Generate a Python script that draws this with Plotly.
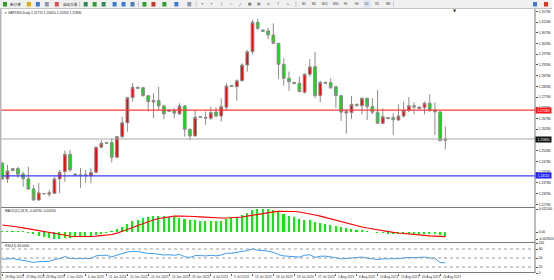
import plotly.graph_objects as go

# ---------------- data ----------------
dates = ["18 May 2023", "19 May 2023", "21 May 2023", "22 May 2023", "23 May 2023", "24 May 2023",
         "25 May 2023", "26 May 2023", "28 May 2023", "29 May 2023", "30 May 2023", "31 May 2023",
         "1 Jun 2023", "2 Jun 2023", "4 Jun 2023", "5 Jun 2023", "6 Jun 2023", "7 Jun 2023",
         "8 Jun 2023", "9 Jun 2023", "11 Jun 2023", "12 Jun 2023", "13 Jun 2023", "14 Jun 2023",
         "15 Jun 2023", "16 Jun 2023", "18 Jun 2023", "19 Jun 2023", "20 Jun 2023", "21 Jun 2023",
         "22 Jun 2023", "23 Jun 2023", "25 Jun 2023", "26 Jun 2023", "27 Jun 2023", "28 Jun 2023",
         "29 Jun 2023", "30 Jun 2023", "2 Jul 2023", "3 Jul 2023", "4 Jul 2023", "5 Jul 2023",
         "6 Jul 2023", "7 Jul 2023", "9 Jul 2023", "10 Jul 2023", "11 Jul 2023", "12 Jul 2023",
         "13 Jul 2023", "14 Jul 2023", "16 Jul 2023", "17 Jul 2023", "18 Jul 2023", "19 Jul 2023",
         "20 Jul 2023", "21 Jul 2023", "23 Jul 2023", "24 Jul 2023", "25 Jul 2023", "26 Jul 2023",
         "27 Jul 2023", "28 Jul 2023", "30 Jul 2023", "31 Jul 2023", "1 Aug 2023", "2 Aug 2023",
         "3 Aug 2023", "4 Aug 2023", "6 Aug 2023", "7 Aug 2023", "8 Aug 2023", "9 Aug 2023",
         "10 Aug 2023", "11 Aug 2023", "13 Aug 2023", "14 Aug 2023", "15 Aug 2023", "16 Aug 2023",
         "17 Aug 2023", "18 Aug 2023", "20 Aug 2023", "21 Aug 2023", "22 Aug 2023", "23 Aug 2023",
         "24 Aug 2023", "25 Aug 2023"]

opens = [1.2471, 1.2397, 1.2436, 1.2445, 1.2420, 1.2398, 1.2350, 1.2299, 1.2327, 1.2326,
         1.2330, 1.2397, 1.2431, 1.2512, 1.2420, 1.2416, 1.2412, 1.2412, 1.2428, 1.2545,
         1.2563, 1.2566, 1.2498, 1.2594, 1.2659, 1.2776, 1.2824, 1.2822, 1.2785, 1.2756,
         1.2762, 1.2737, 1.2712, 1.2718, 1.2700, 1.2737, 1.2628, 1.2597, 1.2684, 1.2684,
         1.2680, 1.2709, 1.2690, 1.2731, 1.2828, 1.2827, 1.2855, 1.2928, 1.2990, 1.3127,
         1.3091, 1.3087, 1.3068, 1.3029, 1.2931, 1.2866, 1.2847, 1.2843, 1.2801, 1.2885,
         1.2920, 1.2785, 1.2847, 1.2846, 1.2826, 1.2785, 1.2704, 1.2706, 1.2745, 1.2738,
         1.2773, 1.2734, 1.2708, 1.2656, 1.2678, 1.2683, 1.2672, 1.2690, 1.2718, 1.2738,
         1.2724, 1.2729, 1.2750, 1.2718, 1.2709, 1.2577]
highs = [1.2476, 1.2462, 1.2448, 1.2454, 1.2431, 1.2454, 1.2369, 1.2378, 1.2331, 1.2346,
         1.2408, 1.2439, 1.2529, 1.2532, 1.2422, 1.2448, 1.2439, 1.2447, 1.2547, 1.2579,
         1.2568, 1.2587, 1.2597, 1.2687, 1.2780, 1.2843, 1.2827, 1.2827, 1.2788, 1.2796,
         1.2827, 1.2742, 1.2721, 1.2726, 1.2750, 1.2742, 1.2633, 1.2718, 1.2690, 1.2711,
         1.2734, 1.2731, 1.2773, 1.2843, 1.2835, 1.2861, 1.2936, 1.2998, 1.3138, 1.3142,
         1.3093, 1.3102, 1.3122, 1.3031, 1.2959, 1.2897, 1.2849, 1.2874, 1.2889, 1.2956,
         1.2990, 1.2854, 1.2850, 1.2866, 1.2832, 1.2788, 1.2723, 1.2784, 1.2747, 1.2776,
         1.2776, 1.2773, 1.2812, 1.2726, 1.2685, 1.2703, 1.2745, 1.2757, 1.2779, 1.2754,
         1.2734, 1.2757, 1.2792, 1.2754, 1.2714, 1.2641]
lows = [1.2392, 1.2378, 1.2432, 1.2402, 1.2360, 1.2346, 1.2294, 1.2294, 1.2325, 1.2314,
        1.2326, 1.2330, 1.2384, 1.2431, 1.2412, 1.2355, 1.2378, 1.2377, 1.2423, 1.2540,
        1.2561, 1.2473, 1.2493, 1.2587, 1.2617, 1.2757, 1.2817, 1.2780, 1.2711, 1.2680,
        1.2718, 1.2675, 1.2709, 1.2680, 1.2695, 1.2594, 1.2579, 1.2594, 1.2680, 1.2649,
        1.2672, 1.2684, 1.2664, 1.2718, 1.2826, 1.2762, 1.2850, 1.2897, 1.2978, 1.3091,
        1.3083, 1.3049, 1.3025, 1.2863, 1.2832, 1.2807, 1.2839, 1.2801, 1.2794, 1.2874,
        1.2773, 1.2754, 1.2840, 1.2816, 1.2729, 1.2667, 1.2608, 1.2676, 1.2736, 1.2698,
        1.2672, 1.2698, 1.2653, 1.2652, 1.2676, 1.2602, 1.2667, 1.2683, 1.2708, 1.2698,
        1.2722, 1.2698, 1.2708, 1.2602, 1.2574, 1.2535]
closes = [1.2397, 1.2434, 1.2445, 1.2419, 1.2398, 1.2350, 1.2299, 1.2332, 1.2329, 1.2332,
          1.2397, 1.2428, 1.2512, 1.2439, 1.2414, 1.2412, 1.2416, 1.2428, 1.2545, 1.2563,
          1.2566, 1.2498, 1.2594, 1.2659, 1.2776, 1.2824, 1.2820, 1.2785, 1.2757, 1.2762,
          1.2737, 1.2700, 1.2718, 1.2703, 1.2737, 1.2628, 1.2597, 1.2684, 1.2687, 1.2680,
          1.2706, 1.2690, 1.2734, 1.2830, 1.2832, 1.2855, 1.2928, 1.2990, 1.3127, 1.3099,
          1.3085, 1.3068, 1.3029, 1.2931, 1.2866, 1.2850, 1.2841, 1.2804, 1.2885, 1.2920,
          1.2785, 1.2847, 1.2843, 1.2822, 1.2785, 1.2708, 1.2711, 1.2745, 1.2738, 1.2773,
          1.2734, 1.2708, 1.2656, 1.2687, 1.2683, 1.2673, 1.2690, 1.2718, 1.2738, 1.2732,
          1.2732, 1.2750, 1.2718, 1.2709, 1.2575, 1.2583]

macd_main = [0.00025, 0.0002, 0.00015, 0.0001, 0.00005, -0.0001, -0.001, -0.00175, -0.0025, -0.003,
             -0.0035, -0.0035, -0.003, -0.00275, -0.0025, -0.00225, -0.002, -0.00175, -0.00125, -0.00075,
             -0.00025, 0.0005, 0.0015, 0.0025, 0.004, 0.0055, 0.00625, 0.007, 0.0075, 0.008,
             0.00825, 0.008, 0.00775, 0.0075, 0.00725, 0.0065, 0.006, 0.006, 0.00575, 0.0055,
             0.0055, 0.0055, 0.00575, 0.0065, 0.007, 0.0075, 0.0085, 0.0095, 0.011, 0.0115,
             0.0115, 0.0115, 0.011, 0.01, 0.009, 0.008, 0.0075, 0.00675, 0.00625, 0.006,
             0.005, 0.0045, 0.00425, 0.00375, 0.00325, 0.0025, 0.002, 0.0015, 0.001, 0.0006,
             0.0003, 0.0, -0.0003, -0.0005, -0.0006, -0.0008, -0.0009, -0.001, -0.001, -0.001,
             -0.001, -0.001, -0.0011, -0.0012, -0.0016, -0.0019]
macd_signal = [0.0035, 0.00325, 0.0029, 0.0025, 0.0021, 0.00165, 0.00115, 0.00065, 0.00015, -0.0004,
               -0.0009, -0.0014, -0.00175, -0.002, -0.00225, -0.00235, -0.00235, -0.00225, -0.0021, -0.0019,
               -0.00165, -0.00125, -0.0006, 0.00025, 0.00125, 0.00225, 0.00325, 0.00425, 0.00525, 0.006,
               0.00675, 0.00725, 0.00765, 0.0079, 0.008, 0.008, 0.0079, 0.00775, 0.0076, 0.0074,
               0.00725, 0.0071, 0.007, 0.007, 0.0071, 0.00725, 0.0075, 0.0079, 0.0084, 0.0089,
               0.0094, 0.0098, 0.0101, 0.0103, 0.0104, 0.0104, 0.01025, 0.01, 0.0096, 0.0091,
               0.0085, 0.0079, 0.0072, 0.0065, 0.0058, 0.0051, 0.0044, 0.0037, 0.0031, 0.0025,
               0.002, 0.0015, 0.001, 0.0006, 0.0002, -0.0002, -0.0005, -0.0008, -0.0011, -0.0013,
               -0.0015, -0.0017, -0.0019, -0.002, -0.0021, -0.0023]
rsi = [46, 48, 48, 45, 43, 39, 35, 38, 38, 39, 45, 48, 55, 49, 48, 47, 48, 49, 57, 59,
       59, 54, 60, 64, 70, 72, 72, 68, 65, 65, 63, 60, 61, 59, 62, 54, 52, 58, 58, 57,
       59, 57, 60, 66, 66, 68, 72, 75, 80, 76, 75, 73, 69, 61, 57, 56, 55, 53, 59, 61,
       52, 56, 56, 54, 51, 47, 48, 51, 50, 53, 50, 48, 45, 47, 47, 46, 48, 50, 52, 51,
       51, 53, 50, 49, 35, 34.0]

level_red = 1.2718
level_blue = 1.2411
rsi_levels = [80, 50, 20]
date_ticks = dates[::4]
timeframes = ["M1", "M5", "M15", "M30", "H1", "H4", "D1", "W1", "MN"]

# ---------------- layout helpers (pixel -> paper) ----------------
W, H = 554, 280
PL, PR, PT, PB = 0, 537, 9, 273


def X(px):
    return (px - PL) / (PR - PL)


def Y(py):
    return (PB - py) / (PB - PT)


FONT = "Liberation Sans, Arial, sans-serif"

fig = go.Figure()

fig.add_trace(go.Candlestick(
    x=dates, open=opens, high=highs, low=lows, close=closes,
    increasing=dict(fillcolor="#ff0000", line=dict(color="#8c8c8c", width=1)),
    decreasing=dict(fillcolor="#00e600", line=dict(color="#8c8c8c", width=1)),
    whiskerwidth=0, hoverinfo="skip", xaxis="x", yaxis="y"))

fig.add_trace(go.Bar(x=dates, y=macd_main, marker=dict(color="#00ee00", line=dict(width=0)),
                     width=0.3, hoverinfo="skip", xaxis="x", yaxis="y2"))
fig.add_trace(go.Scatter(x=dates, y=macd_signal, mode="lines",
                         line=dict(color="#ff0000", width=1.2), hoverinfo="skip",
                         xaxis="x", yaxis="y2"))
fig.add_trace(go.Scatter(x=dates, y=rsi, mode="lines",
                         line=dict(color="#3d9cf0", width=1), hoverinfo="skip",
                         xaxis="x", yaxis="y3"))

shapes = []
# toolbar
shapes.append(dict(type="rect", xref="paper", yref="paper", x0=X(0), x1=X(W), y0=Y(8), y1=Y(0),
                   fillcolor="#f0f0f0", line=dict(width=0), layer="above"))
shapes.append(dict(type="line", xref="paper", yref="paper", x0=X(0), x1=X(W), y0=Y(8.5), y1=Y(8.5),
                   line=dict(color="#c4c4c4", width=1)))
# horizontal price levels
for lvl, col in [(level_red, "#ff3b3b"), (closes[-1], "#a8a8a8"), (level_blue, "#3d3dff")]:
    shapes.append(dict(type="line", xref="paper", yref="y", x0=0, x1=1, y0=lvl, y1=lvl,
                       line=dict(color=col, width=1.2)))
# rsi dotted levels
for lvl in rsi_levels:
    shapes.append(dict(type="line", xref="paper", yref="y3", x0=0, x1=1, y0=lvl, y1=lvl,
                       line=dict(color="#9a9a9a", width=1, dash="dot")))
# panel frame lines
for py in [207.5, 242.5, 272.5]:
    shapes.append(dict(type="line", xref="paper", yref="paper", x0=0, x1=1, y0=Y(py), y1=Y(py),
                       line=dict(color="#7a7a7a", width=1)))
shapes.append(dict(type="line", xref="paper", yref="paper", x0=1, x1=1, y0=Y(9), y1=Y(273),
                   line=dict(color="#7a7a7a", width=1)))
shapes.append(dict(type="line", xref="paper", yref="paper", x0=X(0.7), x1=X(0.7), y0=Y(9), y1=Y(280),
                   line=dict(color="#b4b4b4", width=1.5)))

# toolbar icons (decoration)
icons = [(3, "#2ca02c"), (27, "#e0a800"), (36, "#3a7bd5"), (45, "#8a98a8"), (55, "#d9534f"),
         (84, "#2e8b57"), (93, "#2ca02c"), (102, "#2e8b57"), (113, "#3a7bd5"), (122, "#3a7bd5"),
         (131, "#4a7fb5"), (143, "#2ca02c"), (152, "#c0392b"), (163, "#2ca02c"), (175, "#3a7bd5"),
         (188, "#8899aa"), (535, "#3a7bd5"), (546, "#e03020")]
for x0, col in icons:
    shapes.append(dict(type="rect", xref="paper", yref="paper", x0=X(x0), x1=X(x0 + 4),
                       y0=Y(6.5), y1=Y(2), fillcolor=col, line=dict(width=0), layer="above"))
for xs in [80, 139, 197, 297, 395]:
    shapes.append(dict(type="line", xref="paper", yref="paper", x0=X(xs), x1=X(xs),
                       y0=Y(7), y1=Y(1.5), line=dict(color="#c8c8c8", width=1), layer="above"))

ann = []
small = dict(family=FONT, size=3.3, color="#222222")
ann.append(dict(xref="paper", yref="paper", x=X(8), y=Y(4.2), text="新订单", showarrow=False,
                xanchor="left", yanchor="middle",
                font=dict(family="Noto Sans CJK SC", size=3.6, color="#222")))
ann.append(dict(xref="paper", yref="paper", x=X(61), y=Y(4.2), text="自动交易", showarrow=False,
                xanchor="left", yanchor="middle",
                font=dict(family="Noto Sans CJK SC", size=3.6, color="#222")))
tool_glyphs = ["↖", "+", "|", "—", "╱", "▦", "▤", "A", "T", "↘"]
for k, g in enumerate(tool_glyphs):
    ann.append(dict(xref="paper", yref="paper", x=X(203 + 9.5 * k), y=Y(4.2), text=g,
                    showarrow=False, xanchor="center", yanchor="middle",
                    font=dict(family="DejaVu Sans", size=3.6, color="#444")))
for k, tf in enumerate(timeframes):
    ann.append(dict(xref="paper", yref="paper", x=X(305 + 10.6 * k), y=Y(4.2), text=tf,
                    showarrow=False, xanchor="center", yanchor="middle",
                    bgcolor="#d8e4f2" if tf == "D1" else None,
                    font=dict(family=FONT, size=2.8, color="#333")))
ann.append(dict(xref="paper", yref="paper", x=X(457), y=Y(10.5), text="▼", showarrow=False,
                xanchor="center", yanchor="middle",
                font=dict(family="DejaVu Sans", size=4, color="#333")))

# panel titles
ann.append(dict(xref="paper", yref="paper", x=X(3), y=Y(12.5), showarrow=False, xanchor="left",
                yanchor="middle", font=small,
                text="▾ GBPUSD,Daily %.5f %.5f %.5f %.5f" % (opens[-1], highs[-1], lows[-1], closes[-1])))
ann.append(dict(xref="paper", yref="paper", x=X(3), y=Y(211), showarrow=False, xanchor="left",
                yanchor="middle", font=small,
                text="MACD(12,26,9) %.5f %.5f" % (macd_main[-1], macd_signal[-1])))
ann.append(dict(xref="paper", yref="paper", x=X(3), y=Y(246), showarrow=False, xanchor="left",
                yanchor="middle", font=small, text="RSI(14) %.4f" % rsi[-1]))

# price boxes on the right axis
for lvl, col in [(level_red, "#ff1a1a"), (closes[-1], "#111111"), (level_blue, "#2020ff")]:
    ann.append(dict(xref="paper", yref="y", x=1, y=lvl, text="%.5f" % lvl, showarrow=False,
                    xanchor="left", yanchor="middle", bgcolor=col, borderpad=0.6, width=14,
                    font=dict(family=FONT, size=3.3, color="#ffffff")))

# date labels (left aligned after the tick)
for d in date_ticks:
    ann.append(dict(xref="x", yref="paper", x=d, y=Y(273.3), text=d, showarrow=False,
                    xanchor="left", yanchor="top", xshift=0.5,
                    font=dict(family=FONT, size=3.2, color="#333")))

mmax, mmin = max(macd_main), min(macd_main)

fig.update_layout(
    width=W, height=H,
    margin=dict(l=PL, r=W - PR, t=PT, b=H - PB, pad=0),
    paper_bgcolor="white", plot_bgcolor="white",
    showlegend=False, bargap=0,
    boxgap=0.25,
    font=dict(family=FONT, size=3.3, color="#222"),
    xaxis=dict(type="category", range=[-0.44, 102.2], anchor="y3", domain=[0, 1],
               rangeslider=dict(visible=False), showgrid=False, zeroline=False,
               showticklabels=False, ticks="outside", ticklen=2, tickcolor="#666",
               tickmode="array", tickvals=date_ticks, showline=False, fixedrange=True),
    yaxis=dict(domain=[Y(207), 1], range=[1.2266, 1.3189], side="right", anchor="x",
               showgrid=False, zeroline=False, ticks="outside", ticklen=2, tickcolor="#555",
               tick0=1.3128, dtick=0.005, tickformat=".5f",
               tickfont=dict(family=FONT, size=3.3, color="#222")),
    yaxis2=dict(domain=[Y(242), Y(208)], range=[-0.005, 0.012], side="right", anchor="x",
                showgrid=False, zeroline=False, ticks="outside", ticklen=2, tickcolor="#555",
                tickmode="array", tickvals=[mmax, 0, mmin],
                ticktext=["%.6f" % mmax, "0.00", "%.6f" % mmin],
                tickfont=dict(family=FONT, size=3.3, color="#222")),
    yaxis3=dict(domain=[0, Y(243)], range=[0, 100], side="right", anchor="x",
                showgrid=False, zeroline=False, ticks="outside", ticklen=2, tickcolor="#555",
                tickmode="array", tickvals=[100] + rsi_levels + [0],
                tickfont=dict(family=FONT, size=3.3, color="#222")),
    shapes=shapes,
    annotations=ann,
)

fig.write_html("out.html")
